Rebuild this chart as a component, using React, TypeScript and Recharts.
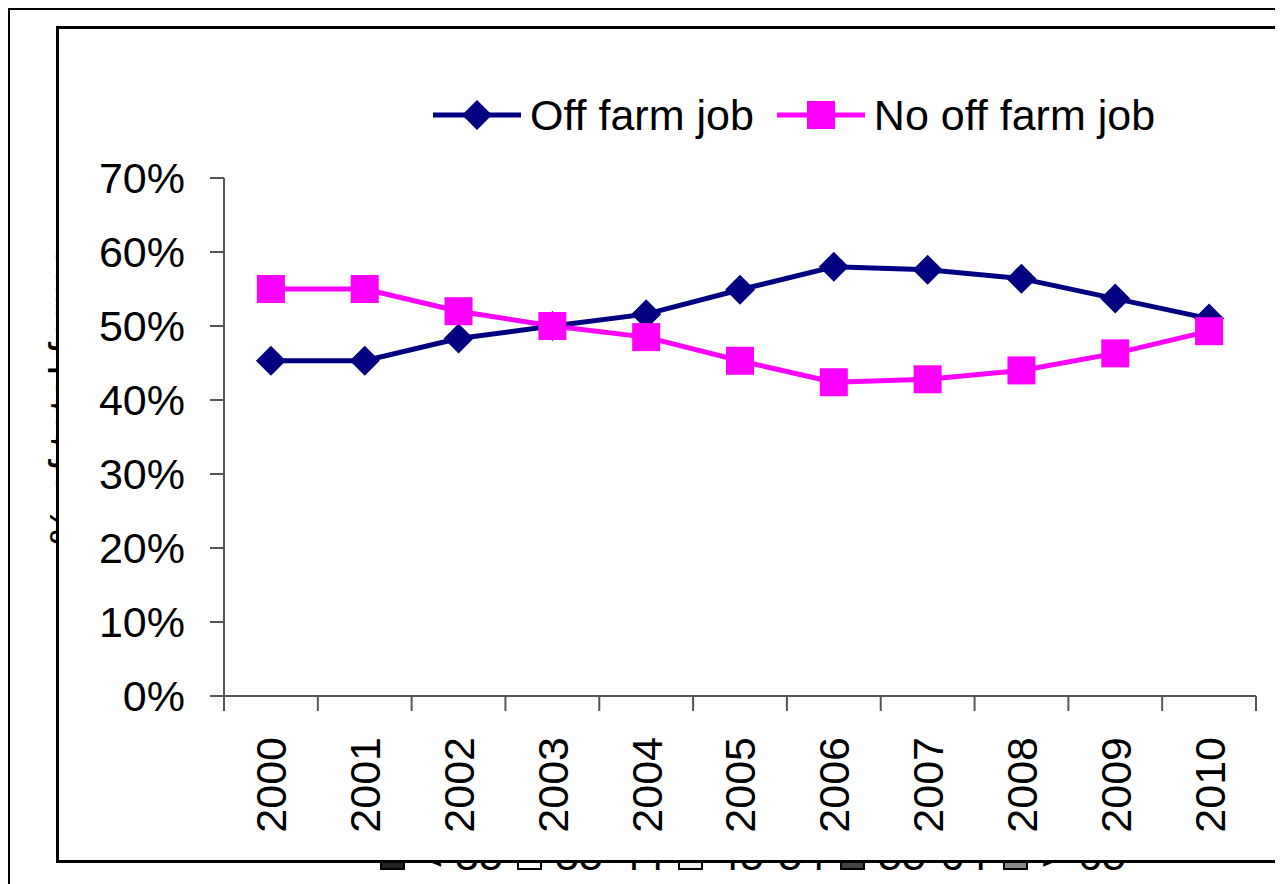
import React from "react";
import { LineChart, Line, XAxis, YAxis } from "recharts";

const years = ["2000", "2001", "2002", "2003", "2004", "2005", "2006", "2007", "2008", "2009", "2010"];
const offFarm = [45.3, 45.3, 48.3, 50.0, 51.6, 54.9, 58.0, 57.6, 56.4, 53.7, 51.0];
const noOffFarm = [55.0, 55.0, 52.0, 50.0, 48.5, 45.3, 42.4, 42.8, 44.0, 46.3, 49.3];
const yTicks = [0, 10, 20, 30, 40, 50, 60, 70];

// leftovers of another chart that sit mostly under the frame
const hiddenAxisTitle = "% of total farms";
const hiddenAgeGroups = ["< 35", "35-44", "45-54", "55-64", "> 65"];

const NAVY = "#000080";
const MAGENTA = "#FF00FF";
const FONT = "'Liberation Sans', Arial, sans-serif";

const data = years.map((year, i) => ({ idx: i, year, off: offFarm[i], no: noOffFarm[i] }));
const yearIdx = years.map((_, i) => i);
const bounds = [...years.map((_, i) => i - 0.5), years.length - 0.5];

function Diamond({ cx, cy, fill }: any) {
  if (cx == null || cy == null) return null;
  const r = 15;
  return <polygon points={`${cx},${cy - r} ${cx + r},${cy} ${cx},${cy + r} ${cx - r},${cy}`} fill={fill} />;
}

function Square({ cx, cy, fill }: any) {
  if (cx == null || cy == null) return null;
  const s = 28;
  return <rect x={cx - s / 2} y={cy - s / 2} width={s} height={s} fill={fill} />;
}

function YearTick({ x, y, payload }: any) {
  return (
    <text
      x={x}
      y={y}
      transform={`rotate(-90 ${x} ${y})`}
      textAnchor="end"
      dy="0.36em"
      fontSize={43}
      fill="#000"
      fontFamily={FONT}
    >
      {years[payload.value]}
    </text>
  );
}

const BlankTick = () => <g />;

const series = [
  { key: "off", name: "Off farm job", color: NAVY, marker: "diamond" },
  { key: "no", name: "No off farm job", color: MAGENTA, marker: "square" },
];

const ageFills = ["#222", "#fff", "#eee", "#444", "#888"];
const ageLeft = [372, 509, 670, 832, 995];

export default function App() {
  return (
    <div style={{ position: "relative", width: 1275, height: 876, overflow: "hidden", fontFamily: FONT }}>
      {/* outer frame */}
      <div
        style={{
          position: "absolute",
          left: 0,
          top: 0,
          width: 1275,
          height: 876,
          boxSizing: "border-box",
          borderTop: "2px solid #000",
          borderLeft: "2px solid #000",
        }}
      />
      {/* hidden bits behind the inner frame */}
      <svg style={{ position: "absolute", left: 0, top: 0 }} width={120} height={876}>
        <text x={71} y={537} transform="rotate(-90 71 537)" fontSize={43} fill="#000" fontFamily={FONT}>
          {hiddenAxisTitle}
        </text>
      </svg>
      {hiddenAgeGroups.map((g, i) => (
        <div
          key={g}
          style={{
            position: "absolute",
            left: ageLeft[i],
            top: 826,
            fontSize: 43,
            lineHeight: "43px",
            whiteSpace: "nowrap",
          }}
        >
          <span
            style={{
              display: "inline-block",
              width: 25,
              height: 22,
              boxSizing: "border-box",
              border: "2px solid #000",
              background: ageFills[i],
              marginRight: 13,
            }}
          />
          {g}
        </div>
      ))}
      {/* inner frame */}
      <div
        style={{
          position: "absolute",
          left: 48,
          top: 18,
          width: 1223,
          height: 837,
          boxSizing: "border-box",
          border: "3px solid #000",
          background: "#fff",
        }}
      />
      <div style={{ position: "absolute", left: 0, top: 0 }}>
        <LineChart width={1275} height={876} data={data} margin={{ top: 170, right: 27, bottom: 38, left: 0 }}>
          <XAxis
            xAxisId="bounds"
            type="number"
            dataKey="idx"
            domain={[-0.5, years.length - 0.5]}
            ticks={bounds}
            interval={0}
            tick={<BlankTick />}
            tickLine={{ stroke: "#555", strokeWidth: 2 }}
            axisLine={{ stroke: "#555", strokeWidth: 2 }}
            tickSize={15}
            height={2}
          />
          <XAxis
            xAxisId="years"
            type="number"
            dataKey="idx"
            domain={[-0.5, years.length - 0.5]}
            ticks={yearIdx}
            interval={0}
            tick={<YearTick />}
            tickLine={false}
            axisLine={false}
            tickSize={0}
            tickMargin={39}
            height={148}
          />
          <YAxis
            domain={[0, 70]}
            ticks={yTicks}
            interval={0}
            tickFormatter={(v: number) => `${v}%`}
            tickSize={14}
            tickMargin={25}
            width={216}
            stroke="#555"
            strokeWidth={2}
            tick={{ fill: "#000", fontSize: 43, fontFamily: FONT }}
          />
          <Line
            xAxisId="years"
            type="linear"
            dataKey="off"
            name="Off farm job"
            stroke={NAVY}
            strokeWidth={5}
            dot={(p: any) => <Diamond key={`d${p.index}`} cx={p.cx} cy={p.cy} fill={NAVY} />}
            activeDot={false}
            isAnimationActive={false}
          />
          <Line
            xAxisId="years"
            type="linear"
            dataKey="no"
            name="No off farm job"
            stroke={MAGENTA}
            strokeWidth={5}
            dot={(p: any) => <Square key={`s${p.index}`} cx={p.cx} cy={p.cy} fill={MAGENTA} />}
            activeDot={false}
            isAnimationActive={false}
          />
        </LineChart>
      </div>
      {/* legend */}
      <div
        style={{
          position: "absolute",
          left: 425,
          top: 83,
          height: 48,
          display: "flex",
          alignItems: "center",
          gap: 23,
        }}
      >
        {series.map((s) => (
          <div key={s.key} style={{ display: "flex", alignItems: "center", gap: 9 }}>
            <svg width={88} height={40}>
              <line x1={0} y1={20} x2={88} y2={20} stroke={s.color} strokeWidth={5} />
              {s.marker === "diamond" ? (
                <Diamond cx={44} cy={20} fill={s.color} />
              ) : (
                <Square cx={44} cy={20} fill={s.color} />
              )}
            </svg>
            <span style={{ fontSize: 43, lineHeight: "48px", color: "#000", whiteSpace: "nowrap" }}>{s.name}</span>
          </div>
        ))}
      </div>
    </div>
  );
}
